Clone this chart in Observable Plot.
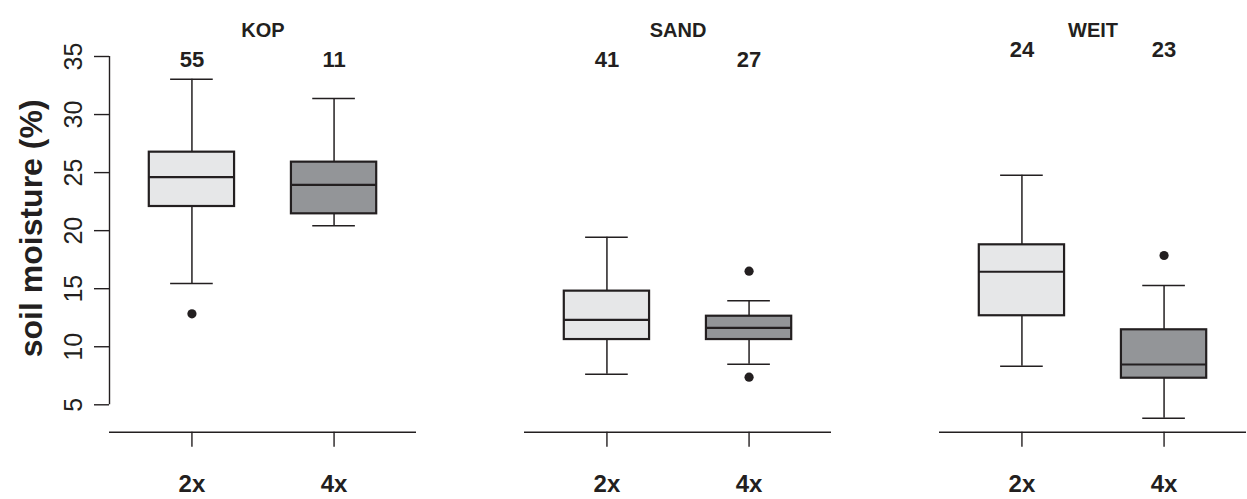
<!DOCTYPE html>
<html><head><meta charset="utf-8">
<script src="https://cdn.jsdelivr.net/npm/d3@7"></script>
<script src="https://cdn.jsdelivr.net/npm/@observablehq/plot@0.6"></script>
<style>
html,body{margin:0;padding:0;background:#fff;}
svg{display:block;}
</style></head><body><div id="chart"></div>
<script>
// ---- data ----
const sites = ["KOP", "SAND", "WEIT"];
const groups = ["2x", "4x"];
const counts = [55, 11, 41, 27, 24, 23];
const lowerWhisker = [15.45, 20.42, 7.64, 8.5, 8.32, 3.85];
const q1 = [22.08, 21.45, 10.62, 10.62, 12.67, 7.29];
const median = [24.61, 23.95, 12.32, 11.63, 16.46, 8.47];
const q3 = [26.76, 25.9, 14.79, 12.63, 18.78, 11.46];
const upperWhisker = [33.05, 31.38, 19.44, 13.96, 24.78, 15.28];
const outlierSite = ["KOP", "SAND", "SAND", "WEIT"];
const outlierGroup = ["2x", "4x", "4x", "4x"];
const outlierValue = [12.84, 16.51, 7.38, 17.86];
const countLevel = [34.72, 34.72, 35.6];
const yTicks = [5, 10, 15, 20, 25, 30, 35];
const yLabel = "soil moisture (%)";

// ---- derived tables ----
const rows = [];
sites.forEach((s, si) => groups.forEach((g, gi) => {
  const i = si * groups.length + gi;
  rows.push({site: s, group: g, pos: gi + 1, n: counts[i], lo: lowerWhisker[i], q1: q1[i],
    med: median[i], q3: q3[i], hi: upperWhisker[i], nLevel: countLevel[si]});
}));
const outliers = outlierValue.map((v, i) => ({site: outlierSite[i], pos: groups.indexOf(outlierGroup[i]) + 1, value: v}));
const siteRows = sites.map(s => ({site: s}));
const firstSite = [{site: sites[0]}];

const halfBox = 0.3, halfCap = 0.15;
const ink = "#231f20";
const fills = {"2x": "#e6e7e8", "4x": "#939598"};
const yDomain = [2.64, 35];
const xDomain = [0.42, 2.58];
const font = "'Liberation Sans', Arial, Helvetica, sans-serif";

const chart = Plot.plot({
  width: 1247, height: 499,
  marginLeft: 109, marginRight: 0, marginTop: 56, marginBottom: 67.3,
  style: {fontFamily: font, color: ink, background: "#fff"},
  fx: {domain: sites, paddingInner: 0.26, paddingOuter: 0, axis: null, label: null},
  x: {domain: xDomain, axis: null},
  y: {domain: yDomain, axis: null},
  marks: [
    // y axis (left facet only)
    Plot.ruleX(firstSite, {fx: "site", x: xDomain[0], y1: yTicks[0], y2: yTicks[yTicks.length - 1], stroke: ink, strokeWidth: 1.4}),
    Plot.axisY({ticks: yTicks, tickSize: 15, tickPadding: 13, tickRotate: -90, fontSize: 25, stroke: ink, strokeWidth: 1.4, fill: ink, label: null}),
    Plot.text(firstSite, {fx: "site", text: () => yLabel, frameAnchor: "left", textAnchor: "middle", rotate: -90, dx: -78, dy: -16, fontSize: 32, fontWeight: "bold", fill: ink}),
    // x axis baseline + ticks
    Plot.ruleY(siteRows, {fx: "site", y: yDomain[0], stroke: ink, strokeWidth: 1.4}),
    Plot.axisX({ticks: groups.map((g, i) => i + 1), tickFormat: d => groups[d - 1], tickSize: 15, tickPadding: 28, fontSize: 24, fontWeight: "bold", stroke: ink, strokeWidth: 1.4, fill: ink, label: null}),
    // whiskers
    Plot.ruleX(rows, {fx: "site", x: "pos", y1: "q3", y2: "hi", stroke: ink, strokeWidth: 1.5}),
    Plot.ruleX(rows, {fx: "site", x: "pos", y1: "q1", y2: "lo", stroke: ink, strokeWidth: 1.5}),
    Plot.ruleY(rows, {fx: "site", y: "hi", x1: d => d.pos - halfCap, x2: d => d.pos + halfCap, stroke: ink, strokeWidth: 1.5}),
    Plot.ruleY(rows, {fx: "site", y: "lo", x1: d => d.pos - halfCap, x2: d => d.pos + halfCap, stroke: ink, strokeWidth: 1.5}),
    // boxes
    Plot.rect(rows, {fx: "site", x1: d => d.pos - halfBox, x2: d => d.pos + halfBox, y1: "q1", y2: "q3",
      fill: d => fills[d.group], stroke: ink, strokeWidth: 2.2}),
    Plot.ruleY(rows, {fx: "site", y: "med", x1: d => d.pos - halfBox, x2: d => d.pos + halfBox, stroke: ink, strokeWidth: 2.2}),
    // outliers
    Plot.dot(outliers, {fx: "site", x: "pos", y: "value", r: 4.6, fill: ink, stroke: null}),
    // counts
    Plot.text(rows, {fx: "site", x: "pos", y: "nLevel", text: d => String(d.n), fontSize: 22, fontWeight: "bold", fill: ink}),
    // facet titles
    Plot.text(siteRows, {fx: "site", text: "site", frameAnchor: "top", dy: -33.3, fontSize: 20, fontWeight: "bold", fill: ink})
  ]
});
document.getElementById("chart").appendChild(chart);
</script>
</body></html>
